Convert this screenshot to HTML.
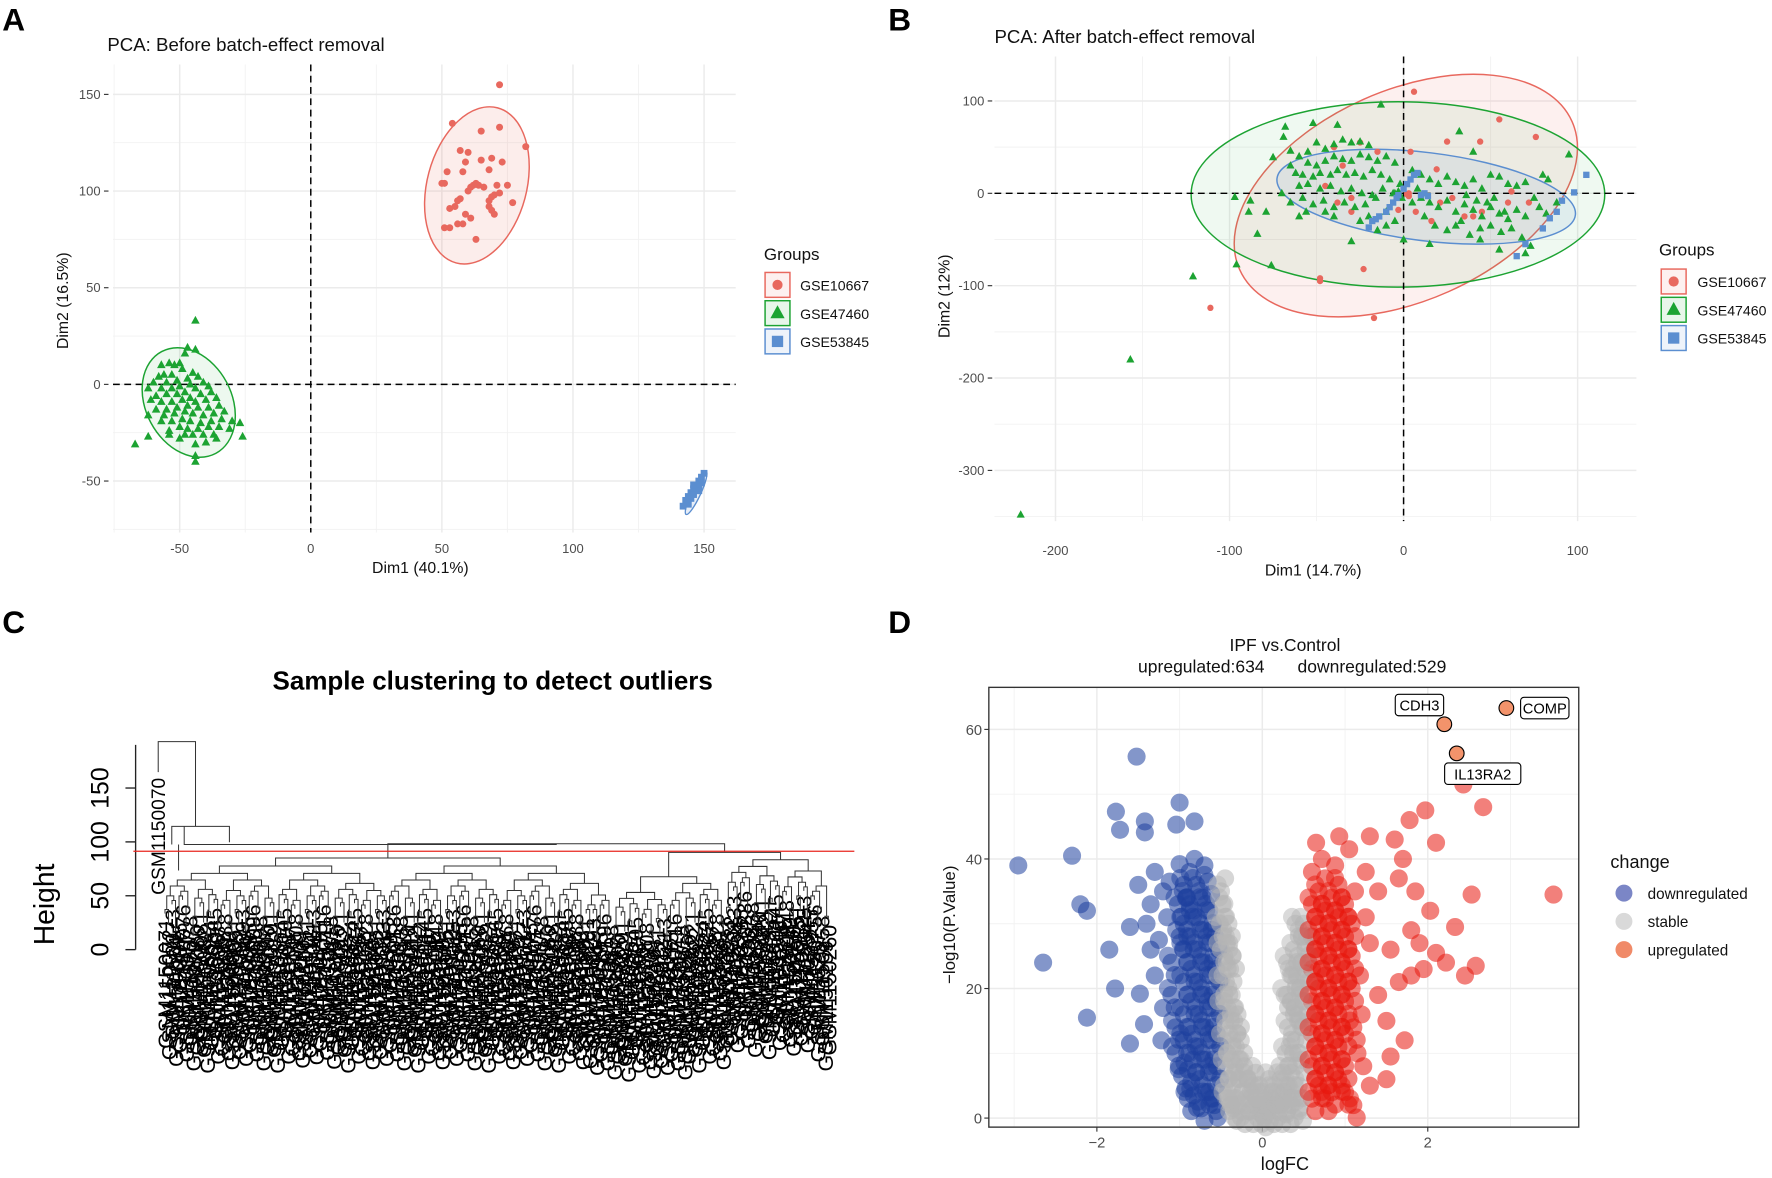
<!DOCTYPE html>
<html><head><meta charset="utf-8"><style>
html,body{margin:0;padding:0;background:#fff;}
svg{display:block;font-family:"Liberation Sans",Arial,sans-serif;}
</style></head><body>
<svg id="fig" width="1772" height="1178" viewBox="0 0 1568 1042" preserveAspectRatio="none" xmlns="http://www.w3.org/2000/svg">
<rect width="1568" height="1042" fill="#fff"/>
<g id="A"></g>
<g id="B"></g>
<g id="C"></g>
<g id="D"></g>
</svg>
<script>
// ---------- DATA ----------
const aRed=[[72,155],[54,135],[72,133],[65,131],[82,123],[57,121],[60,120],[69,117],[65,116],[73,115],[59,115],[58,110],[68,111],[52,110],[51,104],[50,104],[62,103],[63,104],[64,103],[61,102],[66,102],[71,103],[75,103],[60,100],[72,99],[69,97],[70,98],[57,96],[56,95],[68,95],[77,94],[68,92],[53,91],[55,92],[69,90],[70,88],[59,88],[61,86],[58,83],[56,83],[53,81],[51,81],[63,75]];
const aGreen=[[-44,33],[-47,19],[-44,18],[-48,16],[-50,11],[-54,11],[-52,10],[-57,10],[-49,8],[-45,6],[-53,5],[-56,5],[-58,4],[-43,4],[-47,3],[-51,2],[-55,1],[-60,1],[-41,1],[-46,0],[-50,-1],[-53,-2],[-57,-2],[-62,-2],[-44,-2],[-39,-1],[-48,-4],[-51,-5],[-55,-5],[-59,-6],[-42,-5],[-38,-4],[-46,-7],[-49,-8],[-53,-9],[-57,-9],[-61,-8],[-44,-9],[-40,-8],[-36,-7],[-47,-11],[-51,-12],[-55,-13],[-59,-13],[-43,-12],[-39,-12],[-35,-11],[-48,-14],[-52,-15],[-56,-16],[-45,-15],[-41,-16],[-37,-15],[-33,-14],[-62,-16],[-49,-18],[-53,-19],[-46,-19],[-42,-20],[-38,-19],[-34,-18],[-30,-19],[-57,-19],[-50,-22],[-47,-23],[-43,-23],[-39,-22],[-35,-22],[-31,-23],[-54,-24],[-45,-26],[-41,-26],[-37,-26],[-48,-26],[-27,-20],[-26,-27],[-62,-27],[-67,-31],[-44,-31],[-40,-30],[-36,-28],[-44,-37],[-44,-40],[-50,-28],[-54,-26]];
const aBlue=[[150,-46],[149,-48],[148,-50],[149,-51],[147,-52],[148,-53],[146,-54],[147,-55],[145,-56],[146,-57],[144,-58],[145,-59],[143,-60],[144,-62],[142,-63],[148,-55],[146,-52]];
const bRed=[[6,110],[55,80],[76,61],[-25,55],[25,56],[44,56],[4,45],[-40,50],[-15,45],[-35,30],[-30,-5],[-38,-10],[-30,-20],[19,26],[-45,8],[21,-10],[7,-20],[16,-30],[35,-25],[45,-20],[60,-10],[62,2],[72,-10],[28,-5],[-48,-95],[-48,-92],[-23,-82],[-111,-124],[-17,-135],[3,0],[3,-3],[2,-1],[-3,-18],[40,-25]];
const bGreen=[[-220,-348],[-157,-180],[-121,-90],[-96,-77],[-97,-4],[-88,-8],[-89,-20],[-79,-20],[-84,-44],[-76,-78],[-13,96],[-68,72],[-52,76],[-38,74],[-69,61],[-75,39],[-65,46],[-55,45],[-50,55],[-45,48],[-40,53],[-35,58],[-30,55],[-25,56],[-20,52],[-60,40],[-55,33],[-50,30],[-45,35],[-40,40],[-35,37],[-30,35],[-25,42],[-20,39],[-15,35],[-10,40],[-5,33],[-65,30],[-62,22],[-58,20],[-52,18],[-48,22],[-42,20],[-38,25],[-33,20],[-28,22],[-23,18],[-18,25],[-13,20],[-8,15],[-60,8],[-55,10],[-48,5],[-42,8],[-36,2],[-30,5],[-24,0],[-18,-2],[-12,5],[-6,0],[-65,-10],[-58,-5],[-52,-12],[-46,-8],[-40,-15],[-34,-10],[-28,-15],[-22,-12],[-16,-5],[-10,-20],[-5,-30],[-40,-25],[-25,-30],[-15,-40],[-30,-52],[-10,-35],[0,-50],[32,67],[40,45],[95,42],[5,25],[10,20],[15,15],[20,10],[25,18],[30,12],[35,8],[40,15],[45,5],[50,20],[55,18],[60,10],[65,8],[70,12],[75,-5],[80,20],[83,15],[88,-10],[10,-5],[15,-10],[20,-15],[25,-8],[30,-20],[35,-12],[40,-18],[45,-25],[50,-15],[55,-22],[60,-28],[65,-18],[70,-25],[78,-15],[82,-22],[12,-25],[18,-35],[25,-40],[33,-30],[38,-45],[44,-38],[50,-35],[56,-42],[62,-38],[68,-48],[73,-57],[55,-61],[70,-65],[44,-50],[30,-35],[15,-55],[5,-10],[8,5],[-2,10],[-3,2],[-5,0],[-1,-5],[48,-10],[52,-5],[58,-20],[36,-2],[42,-8],[-70,0],[-56,-20],[-45,-20],[-20,-25],[-60,-25]];
const bBlue=[[105,20],[98,1],[91,-8],[88,-20],[84,-27],[80,-38],[70,-55],[65,-68],[-20,-37],[-14,-25],[-16,-28],[-10,-20],[-8,-15],[-6,-10],[-4,-5],[-3,-2],[0,5],[2,10],[4,15],[6,20],[8,22],[12,0],[14,-3],[10,-2],[-18,-30]];
const dDown=[[-2.95,39],[-2.65,24],[-2.3,40.5],[-2.2,33],[-2.12,32],[-2.12,15.5],[-1.85,26],[-1.78,20],[-1.77,47.3],[-1.72,44.5],[-1.52,55.8],[-1.5,36],[-1.42,45.8],[-1.42,44.1],[-1.48,19.2],[-1.6,11.5],[-1.43,14.5],[-1.22,12],[-1.0,48.7],[-1.04,45.3],[-0.82,45.8],[-1.0,39.2],[-0.7,39],[-1.3,38],[-1.35,33],[-1.6,29.5],[-1.4,30],[-1.2,35],[-0.97,6.5],[-0.83,3.5],[-0.9,7.5],[-1.2,17],[-1.3,22],[-1.35,26],[-1.25,27.5],[-1.15,31],[-1.1,24],[-1.1,19],[-1.05,14],[-1.05,10],[-0.95,36],[-0.95,30],[-0.95,26],[-0.95,21],[-0.95,16],[-0.95,12],[-0.88,38],[-0.88,33],[-0.87,28],[-0.86,23],[-0.86,18],[-0.85,13],[-0.84,9],[-0.8,36],[-0.79,31],[-0.78,26],[-0.78,21],[-0.77,16],[-0.77,11],[-0.76,6],[-0.72,34],[-0.71,29],[-0.7,24],[-0.7,19],[-0.69,14],[-0.69,9],[-0.68,4],[-0.64,32],[-0.63,27],[-0.62,22],[-0.62,17],[-0.61,12],[-0.6,7],[-0.6,3],[-0.57,28],[-0.56,23],[-0.56,18],[-0.55,13],[-0.55,8],[-0.66,36.5],[-0.82,40],[-0.92,34],[-1.0,28],[-1.02,33],[-0.9,3],[-0.74,1.5],[-0.58,2],[-1.12,36.5]];
const dStable=[[-0.45,37],[-0.48,33],[-0.47,29],[-0.46,25],[-0.44,21],[-0.42,17],[-0.4,13],[-0.38,9],[-0.36,5],[-0.44,3],[-0.35,1.5],[-0.3,2],[-0.28,6],[-0.32,11],[-0.34,15],[-0.37,19],[-0.39,23],[-0.4,27],[-0.25,1],[-0.2,3],[-0.22,8],[-0.15,1],[-0.1,2],[-0.05,1],[0,0.5],[0.05,1.5],[0.1,1],[0.15,2],[0.2,1],[0.25,2.5],[0.3,1],[0.35,2],[0.4,3],[0.45,1.5],[0.22,6],[0.28,10],[0.31,14],[0.34,18],[0.36,22],[0.38,26],[0.4,30],[0.35,7],[0.4,12],[0.43,16],[0.45,20],[0.47,24],[0.48,28],[0.5,30],[-0.12,5],[0.12,4],[-0.05,4],[0.03,3],[0.3,24],[0.27,19],[-0.3,16],[-0.26,12],[-0.5,35],[-0.52,30],[-0.5,26],[-0.5,21],[-0.49,17],[-0.47,12],[-0.45,8],[-0.42,4],[-0.38,2],[-0.33,8],[-0.18,6],[-0.08,7],[0.08,6],[0.18,4],[0.25,7],[0.32,5],[0.44,5],[0.47,9],[0.49,14],[0.5,18],[0.52,23],[0.52,27],[0.37,10],[0.39,17],[-0.41,30],[-0.36,25],[-0.02,2],[0.42,22]];
const dUp=[[0.65,42.5],[0.93,43.5],[1.3,43.5],[1.6,43],[1.78,46],[1.97,47.5],[2.1,42.5],[2.43,51.5],[2.67,48],[3.52,34.5],[2.53,34.5],[2.33,29.5],[2.03,32],[1.85,35],[2.58,23.5],[2.45,22],[2.1,25.5],[1.95,23],[1.8,22],[2.22,24],[1.5,15],[1.72,12],[1.55,9.5],[1.1,2],[1.5,6],[1.3,27],[1.25,31],[1.4,35],[1.65,37],[1.7,40],[1.25,38],[1.05,41.5],[1.55,26],[1.8,29],[1.9,27],[1.65,21],[1.4,19],[1.2,16],[1.15,10],[1.3,5],[0.6,38],[0.6,33],[0.6,28],[0.6,23],[0.6,18],[0.6,13],[0.6,8],[0.6,3],[0.68,35],[0.68,30],[0.68,25],[0.68,20],[0.68,15],[0.68,10],[0.68,5],[0.76,37],[0.76,32],[0.76,27],[0.76,22],[0.76,17],[0.76,12],[0.76,7],[0.76,3],[0.84,34],[0.84,29],[0.84,24],[0.84,19],[0.84,14],[0.84,9],[0.84,4],[0.92,36],[0.92,31],[0.92,26],[0.92,21],[0.92,16],[0.92,11],[0.92,6],[1.0,33],[1.0,28],[1.0,23],[1.0,18],[1.0,13],[1.0,8],[1.0,4],[1.08,30],[1.08,25],[1.08,20],[1.1,14],[1.12,35],[0.72,40],[0.88,39],[1.18,22],[1.22,8]];
const dLabeled=[["COMP",2.95,63.3],["CDH3",2.2,60.8],["IL13RA2",2.35,56.3]];
const aXTicks=[-50,0,50,100,150], aYTicks=[-50,0,50,100,150];
const bXTicks=[-200,-100,0,100], bYTicks=[-300,-200,-100,0,100];
const dXTicks=[-2,0,2], dYTicks=[0,20,40,60];
const cYTicks=[0,50,100,150];
const groups=["GSE10667","GSE47460","GSE53845"];
const changes=["downregulated","stable","upregulated"];

// ---------- HELPERS ----------
const NS="http://www.w3.org/2000/svg";
function el(parent,tag,attrs,txt){const e=document.createElementNS(NS,tag);for(const k in attrs)e.setAttribute(k,attrs[k]);if(txt!==undefined)e.textContent=txt;parent.appendChild(e);return e;}
function tri(cx,cy,s){return `${cx},${cy-s} ${cx-s*0.9},${cy+s*0.65} ${cx+s*0.9},${cy+s*0.65}`;}
const RED="#e8685e",GREEN="#1ca332",BLUE="#5b8ed0";

// ---------- PANEL A ----------
(function(){
const g=document.getElementById('A');
const sx=v=>275+v*2.32, sy=v=>340-v*1.71;
const L=100,R=651,T=57,B=471;
for(const v of [-75,-25,25,75,125]){el(g,'line',{x1:sx(v),x2:sx(v),y1:T,y2:B,stroke:'#f2f2f2','stroke-width':0.8});}
for(const v of [-75,-25,25,75,125]){el(g,'line',{x1:L,x2:R,y1:sy(v),y2:sy(v),stroke:'#f2f2f2','stroke-width':0.8});}
aXTicks.forEach(v=>{el(g,'line',{x1:sx(v),x2:sx(v),y1:T,y2:B,stroke:'#ebebeb','stroke-width':1.3});
 const t=el(g,'text',{x:sx(v),y:489,'font-size':11.5,fill:'#4d4d4d','text-anchor':'middle'},v);});
aYTicks.forEach(v=>{el(g,'line',{x1:L,x2:R,y1:sy(v),y2:sy(v),stroke:'#ebebeb','stroke-width':1.3});
 el(g,'line',{x1:92,x2:96,y1:sy(v),y2:sy(v),stroke:'#333'});
 const t=el(g,'text',{x:89,y:sy(v)+4,'font-size':11.5,fill:'#4d4d4d','text-anchor':'end'},v);});
el(g,'line',{x1:L,x2:R,y1:sy(0),y2:sy(0),stroke:'#000','stroke-width':1.3,'stroke-dasharray':'6,4'});
el(g,'line',{x1:sx(0),x2:sx(0),y1:T,y2:B,stroke:'#000','stroke-width':1.3,'stroke-dasharray':'6,4'});
el(g,'ellipse',{cx:422,cy:164,rx:44,ry:71,transform:'rotate(15 422 164)',fill:'#e8685e',"fill-opacity":0.12,stroke:RED,'stroke-width':1.3});
el(g,'ellipse',{cx:167,cy:356,rx:38,ry:51,transform:'rotate(-28 167 356)',fill:'#1ca332',"fill-opacity":0.08,stroke:GREEN,'stroke-width':1.3});
el(g,'ellipse',{cx:616,cy:436,rx:4,ry:21,transform:'rotate(25 616 436)',fill:'#5b8ed0',"fill-opacity":0.15,stroke:BLUE,'stroke-width':1.2});
aRed.forEach(p=>{const c=el(g,'circle',{cx:sx(p[0]),cy:sy(p[1]),r:3.1,fill:RED});});
aGreen.forEach(p=>{const c=el(g,'polygon',{points:tri(sx(p[0]),sy(p[1]),4.2),fill:GREEN});});
aBlue.forEach(p=>{const c=el(g,'rect',{x:sx(p[0])-3,y:sy(p[1])-3,width:6,height:6,fill:BLUE});});
let t=el(g,'text',{x:2,y:27,'font-size':28,'font-weight':'bold',fill:'#000'},'A');
t=el(g,'text',{x:95,y:45,'font-size':16.5,fill:'#111'},'PCA: Before batch-effect removal');
t=el(g,'text',{x:372,y:507,'font-size':14,fill:'#111','text-anchor':'middle'},'Dim1 (40.1%)');
t=el(g,'text',{x:0,y:0,'font-size':14,fill:'#111','text-anchor':'middle',transform:'translate(60 266) rotate(-90)'},'Dim2 (16.5%)');
t=el(g,'text',{x:676,y:230,'font-size':15,fill:'#111'},'Groups');
const cols=[RED,GREEN,BLUE];
groups.forEach((n,i)=>{const y=252+i*25;
 const r=el(g,'rect',{x:677,y:y-11,width:22,height:22,fill:cols[i],'fill-opacity':0.1,stroke:cols[i],'stroke-width':1.3});
 if(i==0)el(g,'circle',{cx:688,cy:y,r:4.5,fill:RED});if(i==1)el(g,'polygon',{points:tri(688,y,7),fill:GREEN});if(i==2)el(g,'rect',{x:683,y:y-5,width:10,height:10,fill:BLUE});
 const tt=el(g,'text',{x:708,y:y+5,'font-size':12.5,fill:'#111'},n);});
})();

// ---------- PANEL B ----------
(function(){
const g=document.getElementById('B');
const sx=v=>1242+v*1.54, sy=v=>171-v*0.817;
const L=880,R=1448,T=50,B=461;
for(const v of [-150,-50,50]){el(g,'line',{x1:sx(v),x2:sx(v),y1:T,y2:B,stroke:'#f2f2f2','stroke-width':0.8});}
for(const v of [-350,-250,-150,-50,50]){el(g,'line',{x1:L,x2:R,y1:sy(v),y2:sy(v),stroke:'#f2f2f2','stroke-width':0.8});}
bXTicks.forEach(v=>{el(g,'line',{x1:sx(v),x2:sx(v),y1:T,y2:B,stroke:'#ebebeb','stroke-width':1.3});
 const t=el(g,'text',{x:sx(v),y:491,'font-size':11.5,fill:'#4d4d4d','text-anchor':'middle'},v);});
bYTicks.forEach(v=>{el(g,'line',{x1:L,x2:R,y1:sy(v),y2:sy(v),stroke:'#ebebeb','stroke-width':1.3});
 el(g,'line',{x1:874,x2:878,y1:sy(v),y2:sy(v),stroke:'#333'});
 const t=el(g,'text',{x:871,y:sy(v)+4,'font-size':11.5,fill:'#4d4d4d','text-anchor':'end'},v);});
el(g,'ellipse',{cx:1244,cy:173,rx:161,ry:93,transform:'rotate(-24 1244 173)',fill:'#e8685e','fill-opacity':0.1,stroke:RED,'stroke-width':1.3});
el(g,'ellipse',{cx:1237,cy:172,rx:183,ry:82,fill:'#1ca332','fill-opacity':0.07,stroke:GREEN,'stroke-width':1.3});
el(g,'ellipse',{cx:1262,cy:174,rx:133,ry:39,transform:'rotate(7 1262 174)',fill:'#5b8ed0','fill-opacity':0.1,stroke:BLUE,'stroke-width':1.3});
el(g,'line',{x1:L,x2:R,y1:sy(0),y2:sy(0),stroke:'#000','stroke-width':1.3,'stroke-dasharray':'6,4'});
el(g,'line',{x1:sx(0),x2:sx(0),y1:T,y2:B,stroke:'#000','stroke-width':1.3,'stroke-dasharray':'6,4'});
bRed.forEach(p=>{const c=el(g,'circle',{cx:sx(p[0]),cy:sy(p[1]),r:2.8,fill:RED});});
bGreen.forEach(p=>{const c=el(g,'polygon',{points:tri(sx(p[0]),sy(p[1]),4),fill:GREEN});});
bBlue.forEach(p=>{const c=el(g,'rect',{x:sx(p[0])-2.8,y:sy(p[1])-2.8,width:5.6,height:5.6,fill:BLUE});});
let t=el(g,'text',{x:786,y:27,'font-size':28,'font-weight':'bold',fill:'#000'},'B');
t=el(g,'text',{x:880,y:38,'font-size':16.5,fill:'#111'},'PCA: After batch-effect removal');
t=el(g,'text',{x:1162,y:509,'font-size':14,fill:'#111','text-anchor':'middle'},'Dim1 (14.7%)');
t=el(g,'text',{x:0,y:0,'font-size':14,fill:'#111','text-anchor':'middle',transform:'translate(840 262) rotate(-90)'},'Dim2 (12%)');
t=el(g,'text',{x:1468,y:226,'font-size':15,fill:'#111'},'Groups');
const cols=[RED,GREEN,BLUE];
groups.forEach((n,i)=>{const y=249+i*25;
 const r=el(g,'rect',{x:1470,y:y-11,width:22,height:22,fill:cols[i],'fill-opacity':0.1,stroke:cols[i],'stroke-width':1.3});
 if(i==0)el(g,'circle',{cx:1481,cy:y,r:4.5,fill:RED});if(i==1)el(g,'polygon',{points:tri(1481,y,7),fill:GREEN});if(i==2)el(g,'rect',{x:1476,y:y-5,width:10,height:10,fill:BLUE});
 const tt=el(g,'text',{x:1502,y:y+5,'font-size':12.5,fill:'#111'},n);});
})();

// ---------- PANEL C (dendrogram) ----------
(function(){
const g=document.getElementById('C');
const sy=v=>840-v*0.953;
let t=el(g,'text',{x:2,y:560,'font-size':28,'font-weight':'bold',fill:'#000'},'C');
t=el(g,'text',{x:436,y:610,'font-size':23,'font-weight':'bold',fill:'#000','text-anchor':'middle'},'Sample clustering to detect outliers');
el(g,'line',{x1:120,x2:120,y1:sy(0),y2:sy(190),stroke:'#222','stroke-width':1.2});
cYTicks.forEach(v=>{el(g,'line',{x1:111,x2:120,y1:sy(v),y2:sy(v),stroke:'#222','stroke-width':1.2});
 const tt=el(g,'text',{x:0,y:0,'font-size':22,fill:'#000','text-anchor':'middle',transform:`translate(96 ${sy(v)}) rotate(-90)`},v);});
t=el(g,'text',{x:0,y:0,'font-size':25,fill:'#000','text-anchor':'middle',transform:'translate(48 800) rotate(-90)'},'Height');
const pat=[808,818,800,824,812,796,820,806,828,814,802,816,830,810,799,822,815,804,819,827];
const N=190, x0=146, x1=733;
let cl=[];
const lab=el(g,'g',{});
for(let i=0;i<N;i++){const x=x0+(x1-x0)*i/(N-1);const y=pat[i%pat.length]-((i>160&&i<185)?12:0)+((i>120&&i<150)?8:0);cl.push({x,y});
 const tt=el(lab,'text',{x:0,y:0,'font-size':19,fill:'#000','text-anchor':'end',transform:`translate(${x+7} ${y+4}) rotate(-90)`},'GSM'+(1150071+i));
 }
const lines=el(g,'g',{stroke:'#333','stroke-width':0.9,fill:'none'});
let step=3.5;
while(cl.length>1){const nx=[];for(let i=0;i<cl.length;i+=2){if(i+1>=cl.length){nx.push(cl[i]);continue;}
 const a=cl[i],b=cl[i+1],ny=Math.min(a.y,b.y)-step;
 el(lines,'path',{d:`M${a.x},${a.y}V${ny}H${b.x}V${b.y}`});nx.push({x:(a.x+b.x)/2,y:ny});}
 cl=nx;step+=0.6;}
const top=cl[0];
el(lines,'path',{d:`M${top.x},${top.y}V747H163V731`});
el(lines,'path',{d:`M152,747V731H203V745`});
el(lines,'path',{d:`M140,683V656H173V731`});
el(lines,'path',{d:`M158,770V747`});
t=el(g,'text',{x:0,y:0,'font-size':17,fill:'#000','text-anchor':'end',transform:'translate(146 688) rotate(-90)'},'GSM1150070');
const rl=el(g,'line',{x1:118,x2:756,y1:753,y2:753,stroke:'#e8261f','stroke-width':1.1});
})();

// ---------- PANEL D (volcano) ----------
(function(){
const g=document.getElementById('D');
const sx=v=>1117+v*73.2, sy=v=>989-v*5.73;
const L=875,R=1397,T=608,B=997;
for(const v of [-3,-1,1,3]){el(g,'line',{x1:sx(v),x2:sx(v),y1:T,y2:B,stroke:'#f2f2f2','stroke-width':0.8});}
for(const v of [10,30,50]){el(g,'line',{x1:L,x2:R,y1:sy(v),y2:sy(v),stroke:'#f2f2f2','stroke-width':0.8});}
dXTicks.forEach(v=>{el(g,'line',{x1:sx(v),x2:sx(v),y1:T,y2:B,stroke:'#ebebeb','stroke-width':1.3});
 el(g,'line',{x1:sx(v),x2:sx(v),y1:B,y2:B+4,stroke:'#333'});
 const t=el(g,'text',{x:sx(v),y:1015,'font-size':13,fill:'#4d4d4d','text-anchor':'middle'},v<0?'\u2212'+(-v):v);});
dYTicks.forEach(v=>{el(g,'line',{x1:L,x2:R,y1:sy(v),y2:sy(v),stroke:'#ebebeb','stroke-width':1.3});
 el(g,'line',{x1:L-4,x2:L,y1:sy(v),y2:sy(v),stroke:'#333'});
 const t=el(g,'text',{x:L-6,y:sy(v)+5,'font-size':13,fill:'#4d4d4d','text-anchor':'end'},v);});
const cfg=[[dDown,'#1d3f9e','point-downregulated'],[dStable,'#b5b5b5','point-stable'],[dUp,'#e8180e','point-upregulated']];
cfg.forEach(([arr,col,nm])=>arr.forEach(p=>{const c=el(g,'circle',{cx:sx(p[0]),cy:sy(p[1]),r:8,fill:col,'fill-opacity':0.55});}));
cfg.forEach(([arr,col])=>arr.forEach(p=>{if(Math.abs(p[0])<1.12&&p[1]<37){
 el(g,'circle',{cx:sx(p[0])+3,cy:sy(p[1])+11,r:8,fill:col,'fill-opacity':0.55});
 el(g,'circle',{cx:sx(p[0])-3,cy:sy(p[1])-6,r:8,fill:col,'fill-opacity':0.5});}}));
dLabeled.forEach((d,i)=>{const cx=sx(d[1]),cy=sy(d[2]);
 const c=el(g,'circle',{cx,cy,r:6.5,fill:'#f3936b',stroke:'#000','stroke-width':1});
 const lx=[cx+34,cx-22,cx+23][i], ly=[cy,cy-17,cy+18][i];
 const w=d[0].length*8.2+10;
 el(g,'rect',{x:lx-w/2,y:ly-9.5,width:w,height:19,rx:3,fill:'#fff',stroke:'#000','stroke-width':1});
 const t=el(g,'text',{x:lx,y:ly+5,'font-size':13,fill:'#000','text-anchor':'middle'},d[0]);});
const fr=el(g,'rect',{x:L,y:T,width:R-L,height:B-T,fill:'none',stroke:'#333','stroke-width':1.2});
let t=el(g,'text',{x:786,y:560,'font-size':28,'font-weight':'bold',fill:'#000'},'D');
t=el(g,'text',{x:1137,y:576,'font-size':15.5,fill:'#111','text-anchor':'middle'},'IPF vs.Control');
t=el(g,'text',{x:1063,y:595,'font-size':15.5,fill:'#111','text-anchor':'middle'},'upregulated:634');
t=el(g,'text',{x:1214,y:595,'font-size':15.5,fill:'#111','text-anchor':'middle'},'downregulated:529');
t=el(g,'text',{x:1137,y:1035,'font-size':16,fill:'#111','text-anchor':'middle'},'logFC');
t=el(g,'text',{x:0,y:0,'font-size':15,fill:'#111','text-anchor':'middle',transform:'translate(845 818) rotate(-90)'},'\u2212log10(P.Value)');
t=el(g,'text',{x:1425,y:768,'font-size':16,fill:'#111'},'change');
const lc=['#7b86c6','#d9d9d9','#f08a68'];
changes.forEach((n,i)=>{const y=790+i*25;
 const c=el(g,'circle',{cx:1437,cy:y,r:7.5,fill:lc[i]});
 const tt=el(g,'text',{x:1458,y:y+5,'font-size':13.5,fill:'#111'},n);});
})();
</script>
</body></html>
